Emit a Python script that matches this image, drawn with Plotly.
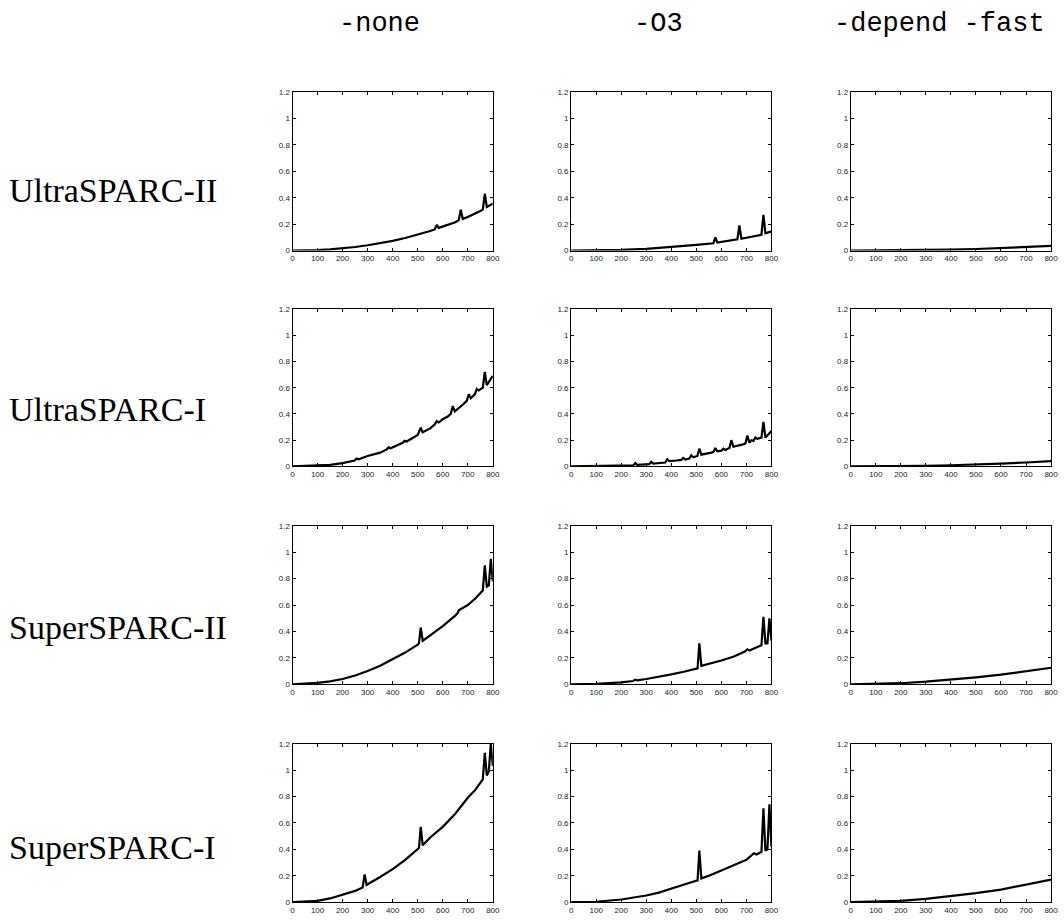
import plotly.graph_objects as go

W, H = 1064, 920

col_titles = ["-none", "-O3", "-depend -fast"]
row_labels = ["UltraSPARC-II", "UltraSPARC-I", "SuperSPARC-II", "SuperSPARC-I"]

x_ticks = [0, 100, 200, 300, 400, 500, 600, 700, 800]
y_ticks = [0, 0.2, 0.4, 0.6, 0.8, 1, 1.2]

# ---- UltraSPARC-II ----
us2_none_x = [0, 50, 100, 150, 200, 250, 300, 350, 400, 450, 500, 550, 568, 576, 584, 600, 650, 664, 672, 680, 700, 750, 760, 768, 776, 800]
us2_none_y = [0, 0.001, 0.004, 0.009, 0.016, 0.027, 0.04, 0.056, 0.073, 0.095, 0.12, 0.148, 0.16, 0.195, 0.172, 0.182, 0.215, 0.23, 0.31, 0.24, 0.255, 0.3, 0.31, 0.43, 0.33, 0.355]

us2_o3_x = [0, 100, 200, 300, 400, 500, 568, 576, 584, 600, 664, 672, 680, 700, 760, 768, 776, 800]
us2_o3_y = [0, 0.001, 0.005, 0.0125, 0.025, 0.043, 0.055, 0.1, 0.06, 0.065, 0.085, 0.19, 0.09, 0.097, 0.12, 0.27, 0.13, 0.145]

us2_fast_x = [0, 100, 200, 300, 400, 500, 600, 700, 800]
us2_fast_y = [0, 0.0005, 0.002, 0.004, 0.007, 0.012, 0.018, 0.026, 0.035]

# ---- UltraSPARC-I ----
us1_none_x = [0, 100, 150, 200, 248, 256, 264, 300, 350, 376, 384, 392, 440, 448, 456, 500, 512, 520, 550, 568, 576, 584, 600, 620, 632, 640, 648, 680, 696, 704, 712, 728, 736, 744, 760, 768, 776, 800]
us1_none_y = [0, 0.005, 0.012, 0.025, 0.045, 0.06, 0.055, 0.08, 0.105, 0.13, 0.145, 0.138, 0.18, 0.195, 0.19, 0.24, 0.295, 0.26, 0.29, 0.32, 0.345, 0.335, 0.36, 0.38, 0.4, 0.46, 0.42, 0.47, 0.5, 0.55, 0.52, 0.55, 0.59, 0.58, 0.6, 0.72, 0.62, 0.69]

us1_o3_x = [0, 100, 200, 248, 256, 264, 312, 320, 328, 376, 384, 392, 420, 440, 448, 456, 472, 480, 488, 504, 512, 520, 560, 568, 576, 584, 600, 608, 616, 632, 640, 648, 690, 696, 704, 712, 720, 728, 736, 744, 760, 768, 776, 790, 800]
us1_o3_y = [0, 0.001, 0.003, 0.008, 0.025, 0.012, 0.018, 0.035, 0.022, 0.03, 0.055, 0.04, 0.045, 0.05, 0.065, 0.052, 0.06, 0.085, 0.07, 0.08, 0.135, 0.09, 0.105, 0.11, 0.14, 0.115, 0.12, 0.135, 0.125, 0.14, 0.2, 0.15, 0.17, 0.175, 0.235, 0.18, 0.2, 0.195, 0.22, 0.21, 0.22, 0.34, 0.22, 0.245, 0.27]

us1_fast_x = [0, 100, 200, 300, 400, 500, 600, 700, 800]
us1_fast_y = [0, 0.0006, 0.0025, 0.005, 0.009, 0.014, 0.021, 0.03, 0.04]

# ---- SuperSPARC-II ----
ss2_none_x = [0, 50, 100, 150, 200, 250, 300, 350, 400, 450, 500, 505, 512, 520, 550, 600, 650, 660, 664, 700, 730, 760, 768, 776, 784, 792, 800]
ss2_none_y = [0, 0.003, 0.01, 0.022, 0.04, 0.067, 0.1, 0.14, 0.19, 0.24, 0.3, 0.31, 0.43, 0.33, 0.37, 0.44, 0.52, 0.54, 0.56, 0.6, 0.65, 0.71, 0.9, 0.74, 0.75, 0.95, 0.78]

ss2_o3_x = [0, 100, 200, 248, 256, 264, 300, 350, 400, 450, 480, 505, 512, 520, 600, 650, 696, 704, 712, 760, 768, 776, 784, 792, 800]
ss2_o3_y = [0, 0.003, 0.015, 0.025, 0.035, 0.03, 0.04, 0.055, 0.075, 0.095, 0.11, 0.12, 0.31, 0.14, 0.18, 0.21, 0.25, 0.265, 0.255, 0.295, 0.51, 0.31, 0.31, 0.5, 0.33]

ss2_fast_x = [0, 100, 200, 300, 400, 500, 600, 700, 800]
ss2_fast_y = [0, 0.002, 0.008, 0.02, 0.035, 0.053, 0.073, 0.097, 0.125]

# ---- SuperSPARC-I ----
ss1_none_x = [0, 50, 100, 150, 200, 250, 280, 288, 296, 300, 350, 400, 450, 500, 505, 512, 520, 550, 600, 650, 700, 730, 760, 768, 776, 784, 792, 800]
ss1_none_y = [0, 0.003, 0.01, 0.028, 0.055, 0.085, 0.11, 0.21, 0.13, 0.135, 0.19, 0.25, 0.32, 0.4, 0.41, 0.57, 0.43, 0.49, 0.57, 0.67, 0.79, 0.85, 0.93, 1.13, 0.96, 0.99, 1.2, 1.03]

ss1_o3_x = [0, 100, 200, 300, 350, 400, 450, 480, 505, 512, 520, 550, 600, 650, 700, 730, 740, 760, 768, 776, 784, 792, 800]
ss1_o3_y = [0, 0.003, 0.02, 0.05, 0.072, 0.1, 0.13, 0.15, 0.165, 0.39, 0.18, 0.2, 0.24, 0.28, 0.32, 0.37, 0.36, 0.38, 0.71, 0.39, 0.4, 0.74, 0.42]

ss1_fast_x = [0, 100, 200, 300, 400, 500, 600, 700, 800]
ss1_fast_y = [0, 0.003, 0.01, 0.025, 0.045, 0.068, 0.095, 0.13, 0.17]

series = [
    [(us2_none_x, us2_none_y), (us2_o3_x, us2_o3_y), (us2_fast_x, us2_fast_y)],
    [(us1_none_x, us1_none_y), (us1_o3_x, us1_o3_y), (us1_fast_x, us1_fast_y)],
    [(ss2_none_x, ss2_none_y), (ss2_o3_x, ss2_o3_y), (ss2_fast_x, ss2_fast_y)],
    [(ss1_none_x, ss1_none_y), (ss1_o3_x, ss1_o3_y), (ss1_fast_x, ss1_fast_y)],
]

# layout in pixels
col_px = [(293, 495), (574, 776), (856, 1058)]
row_px = [(89, 249), (308, 467), (527, 687), (747, 907)]
row_label_y = [188, 410, 630, 852]
col_title_x = [381, 662, 945]

fig = go.Figure()
layout = dict(
    width=W, height=H,
    margin=dict(l=0, r=0, t=0, b=0),
    paper_bgcolor="white", plot_bgcolor="white",
    showlegend=False,
    annotations=[],
)

tickfont = dict(family="Liberation Sans, Arial, sans-serif", size=8, color="#222")
k = 0
for r in range(4):
    for c in range(3):
        k += 1
        xs, ys = series[r][c]
        xa = "x" if k == 1 else f"x{k}"
        ya = "y" if k == 1 else f"y{k}"
        fig.add_trace(go.Scatter(x=xs, y=ys, mode="lines",
                                 line=dict(color="black", width=2.2),
                                 xaxis=xa, yaxis=ya, hoverinfo="skip"))
        x0, x1 = col_px[c]
        y0, y1 = row_px[r]
        common = dict(showgrid=False, zeroline=False, showline=True,
                      linecolor="black", linewidth=1, mirror="ticks",
                      ticks="inside", ticklen=3, tickcolor="black",
                      tickfont=tickfont)
        layout["xaxis" if k == 1 else f"xaxis{k}"] = dict(
            domain=[x0 / W, x1 / W], range=[0, 800],
            tickvals=x_ticks, ticktext=[str(v) for v in x_ticks],
            anchor=ya, **common)
        layout["yaxis" if k == 1 else f"yaxis{k}"] = dict(
            domain=[1 - y1 / H, 1 - y0 / H], range=[0, 1.2],
            tickvals=y_ticks, ticktext=[str(v) for v in y_ticks],
            anchor=xa, **common)

for c, t in enumerate(col_titles):
    layout["annotations"].append(dict(
        text=t, x=col_title_x[c] / W, y=1 - 20 / H, xref="paper", yref="paper",
        xanchor="center", yanchor="middle", showarrow=False,
        font=dict(family="Liberation Mono, DejaVu Sans Mono, monospace", size=27, color="black")))

for r, t in enumerate(row_labels):
    layout["annotations"].append(dict(
        text=t, x=5 / W, y=1 - row_label_y[r] / H, xref="paper", yref="paper",
        xanchor="left", yanchor="middle", showarrow=False,
        font=dict(family="Liberation Serif, Times New Roman, serif", size=34, color="black")))

fig.update_layout(**layout)
fig.write_html("out.html", config={"displayModeBar": False},
               post_script="document.body.style.margin='0';document.body.style.overflow='hidden';")
